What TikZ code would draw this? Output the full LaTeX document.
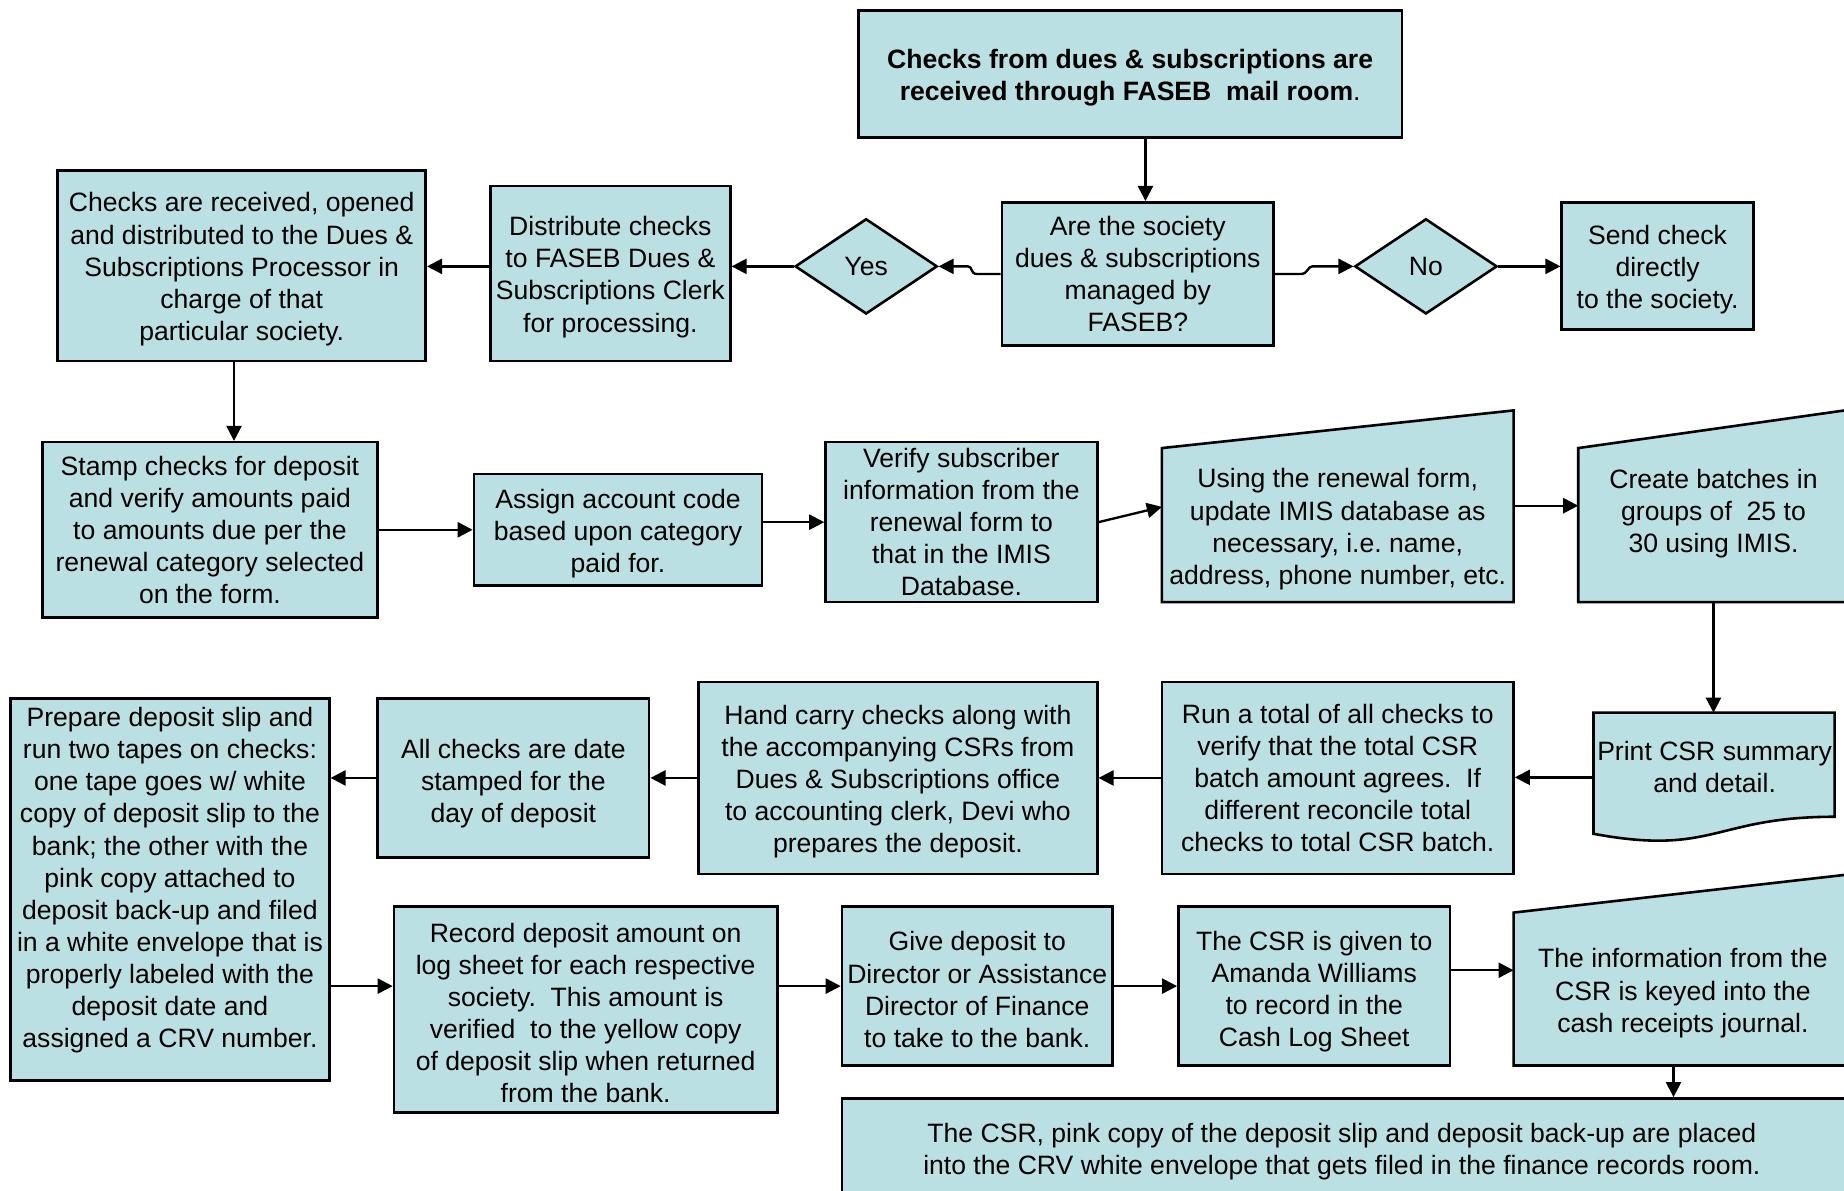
\documentclass[tikz,border=0pt]{standalone}
\usepackage{fontspec}
\setmainfont{Liberation Sans}
\usetikzlibrary{arrows.meta,shapes.geometric}
\definecolor{boxfill}{RGB}{187,224,228}
\newcommand{\myfont}{\fontsize{11.3}{13.65}\selectfont}
\newcommand{\dn}{\rule{0pt}{11.2pt}}
\begin{document}
\begin{tikzpicture}[x=0.5pt,y=-0.5pt,
  shp/.style={draw=black, line width=1.1pt, fill=boxfill},
  box/.style={shp, inner sep=0pt, align=center, font=\myfont},
  txt/.style={inner sep=0pt, align=center, font=\myfont},
  dia/.style={diamond, shp, inner sep=0pt, minimum width=60.5pt, minimum height=40.5pt, font=\myfont},
  arr/.style={line width=1pt, -{Triangle[length=6.4pt,width=6.4pt]}}]
\useasboundingbox (0,0) rectangle (1568,1012);
\clip (0,0) rectangle (1568,1012);

% ---- row 1
\node[box, minimum width=231pt, minimum height=54pt, font=\myfont\bfseries] (top) at (961,63)
  {\dn Checks from dues \& subscriptions are\\ received through FASEB\ \ mail room{\mdseries .}};
\node[box, minimum width=115.5pt, minimum height=61pt] (are) at (967.5,233)
  {Are the society\\ dues \& subscriptions\\ managed by\\ FASEB?};
\node[dia] (yes) at (736.5,226.5) {Yes};
\node[dia] (no) at (1212.5,226.5) {No};
\node[box, minimum width=81.5pt, minimum height=54pt] (send) at (1409.5,226)
  {\dn Send check\\ directly\\ to the society.};
\node[box, minimum width=102pt, minimum height=74.5pt] (dist) at (519,232.5)
  {\dn Distribute checks\\ to FASEB Dues \&\\ Subscriptions Clerk\\ for processing.};
\node[box, minimum width=156.5pt, minimum height=81pt] (recv) at (205.5,226)
  {\dn Checks are received, opened\\ and distributed to the Dues \&\\ Subscriptions Processor in\\ charge of that\\ particular society.};

% ---- row 2
\node[box, minimum width=142.5pt, minimum height=74.5pt] (stamp) at (178.5,450.5)
  {Stamp checks for deposit\\ and verify amounts paid\\ to amounts due per the\\ renewal category selected\\ on the form.};
\node[box, minimum width=122.5pt, minimum height=47.5pt] (assign) at (525.5,450.5)
  {\dn Assign account code\\ based upon category\\ paid for.};
\node[box, minimum width=115.5pt, minimum height=68pt] (verify) at (817.5,444)
  {Verify subscriber\\ information from the\\ renewal form to\\ that in the IMIS\\ Database.};
\path[shp] (988,381) -- (1287,349) -- (1287,512) -- (988,512) -- cycle;
\node[txt] (using) at (1137.5,450)
  {Using the renewal\ form,\\ update IMIS database as\\ necessary, i.e.\ name,\\ address, phone number, etc.};
\path[shp] (1342,381) -- (1572,348.5) -- (1572,512) -- (1342,512) -- cycle;
\node[txt] (create) at (1457,436.5)
  {Create batches in\\ groups of \ 25 to\\ 30 using IMIS.};
\coordinate (usingW) at (988,431);
\coordinate (usingE) at (1287,430);
\coordinate (createW) at (1342,430);
\coordinate (createS) at (1457,512);

% ---- row 3
\path[shp] (1355,606) -- (1560,606) -- (1560,694.5)
  .. controls (1457.5,694.5) and (1457.5,728) .. (1355,709) -- cycle;
\node[txt] (print) at (1458,652.5) {Print CSR summary\\ and detail.};
\coordinate (printN) at (1457,606);
\coordinate (printW) at (1355,661);
\node[box, minimum width=149.5pt, minimum height=81.5pt] (run) at (1137.5,661.5)
  {Run a total of all checks to\\ verify that the total CSR\\ batch amount agrees.\ \ If\\ different reconcile total\\ checks to total CSR batch.};
\node[box, minimum width=169.5pt, minimum height=81.5pt] (hand) at (763.5,661.5)
  {\dn Hand carry checks along with\\ the accompanying CSRs from\\ Dues \& Subscriptions office\\ to accounting clerk, Devi who\\ prepares the deposit.};
\node[box, minimum width=115.5pt, minimum height=67.5pt] (all) at (436.5,661.5)
  {\rule{0pt}{13pt}All checks are date\\ stamped for the\\ day of deposit};
\node[box, minimum width=135.5pt, minimum height=162.5pt] (prep) at (144.5,756.5) {};
\node[txt] (preptext) at (144.5,748.5)
  {Prepare deposit slip and\\ run two tapes on checks:\\ one tape goes w/ white\\ copy of deposit slip to the\\ bank; the other with the\\ pink copy attached to\\ deposit back-up and filed\\ in a white envelope that is\\ properly labeled with the\\ deposit date and\\ assigned a CRV number.};

% ---- row 4
\node[box, minimum width=163pt, minimum height=87.5pt] (record) at (498,858.5)
  {\dn Record deposit amount on\\ log sheet for each respective\\ society.\ \ This amount is\\ verified\ \ to the yellow copy\\ of deposit slip when returned\\ from the bank.};
\node[box, minimum width=115pt, minimum height=67.5pt] (give) at (831,838.5)
  {\dn Give deposit to\\ Director or Assistance\\ Director of Finance\\ to take to the bank.};
\node[box, minimum width=115.5pt, minimum height=67.5pt] (csr) at (1117.5,838.5)
  {\rule{0pt}{13pt}The CSR is given to\\ Amanda Williams\\ to record in the\\ Cash Log Sheet};
\path[shp] (1287,776) -- (1575,743.2) -- (1575,906) -- (1287,906) -- cycle;
\node[txt] (info) at (1431,844.5)
  {The information from the\\ CSR is keyed into the\\ cash receipts journal.};
\coordinate (infoW) at (1287,825);
\coordinate (infoS) at (1423,906);
\node[box, minimum width=427pt, minimum height=53pt] (bottom) at (1143,987) {};
\node[txt] (bottomtext) at (1141,979.5)
  {The CSR, pink copy of the deposit slip and deposit back-up are placed\\ into the CRV white envelope that gets filed in the finance records room.};

% ---- connectors
\coordinate (tx) at (974,0);
\coordinate (rx) at (199,0);
\draw[arr] (top.south -| tx) -- (are.north -| tx);
\draw[arr] (are.west) -- ++(-20,0) .. controls +(-6,0) and +(4,0) .. ([xshift=12.5pt]yes.east) -- (yes.east);
\draw[arr] (are.east) -- ++(22,0) .. controls +(6,0) and +(-4,0) .. ([xshift=-17.5pt]no.west) -- (no.west);
\draw[arr] (no.east) -- (send.west |- no.east);
\draw[arr] (yes.west) -- (dist.east |- yes.west);
\draw[arr] (dist.west |- yes.west) -- (recv.east |- yes.west);
\draw[arr] (recv.south -| rx) -- (stamp.north -| rx);
\draw[arr] (stamp.east) -- (assign.west |- stamp.east);
\draw[arr] (assign.east |- verify.west) -- (verify.west);
\draw[arr] (verify.east) -- (usingW);
\draw[arr] (usingE) -- (createW);
\draw[arr] (createS) -- (printN);
\draw[arr] (printW) -- (run.east |- printW);
\draw[arr] (run.west) -- (hand.east);
\draw[arr] (hand.west) -- (all.east);
\draw[arr] (all.west) -- (prep.east |- all.west);
\draw[arr] (prep.east |- give.west) -- (record.west |- give.west);
\draw[arr] (record.east |- give.west) -- (give.west);
\draw[arr] (give.east) -- (csr.west);
\draw[arr] (csr.east |- infoW) -- (infoW);
\draw[arr] (infoS) -- (bottom.north -| infoS);
\end{tikzpicture}
\end{document}
